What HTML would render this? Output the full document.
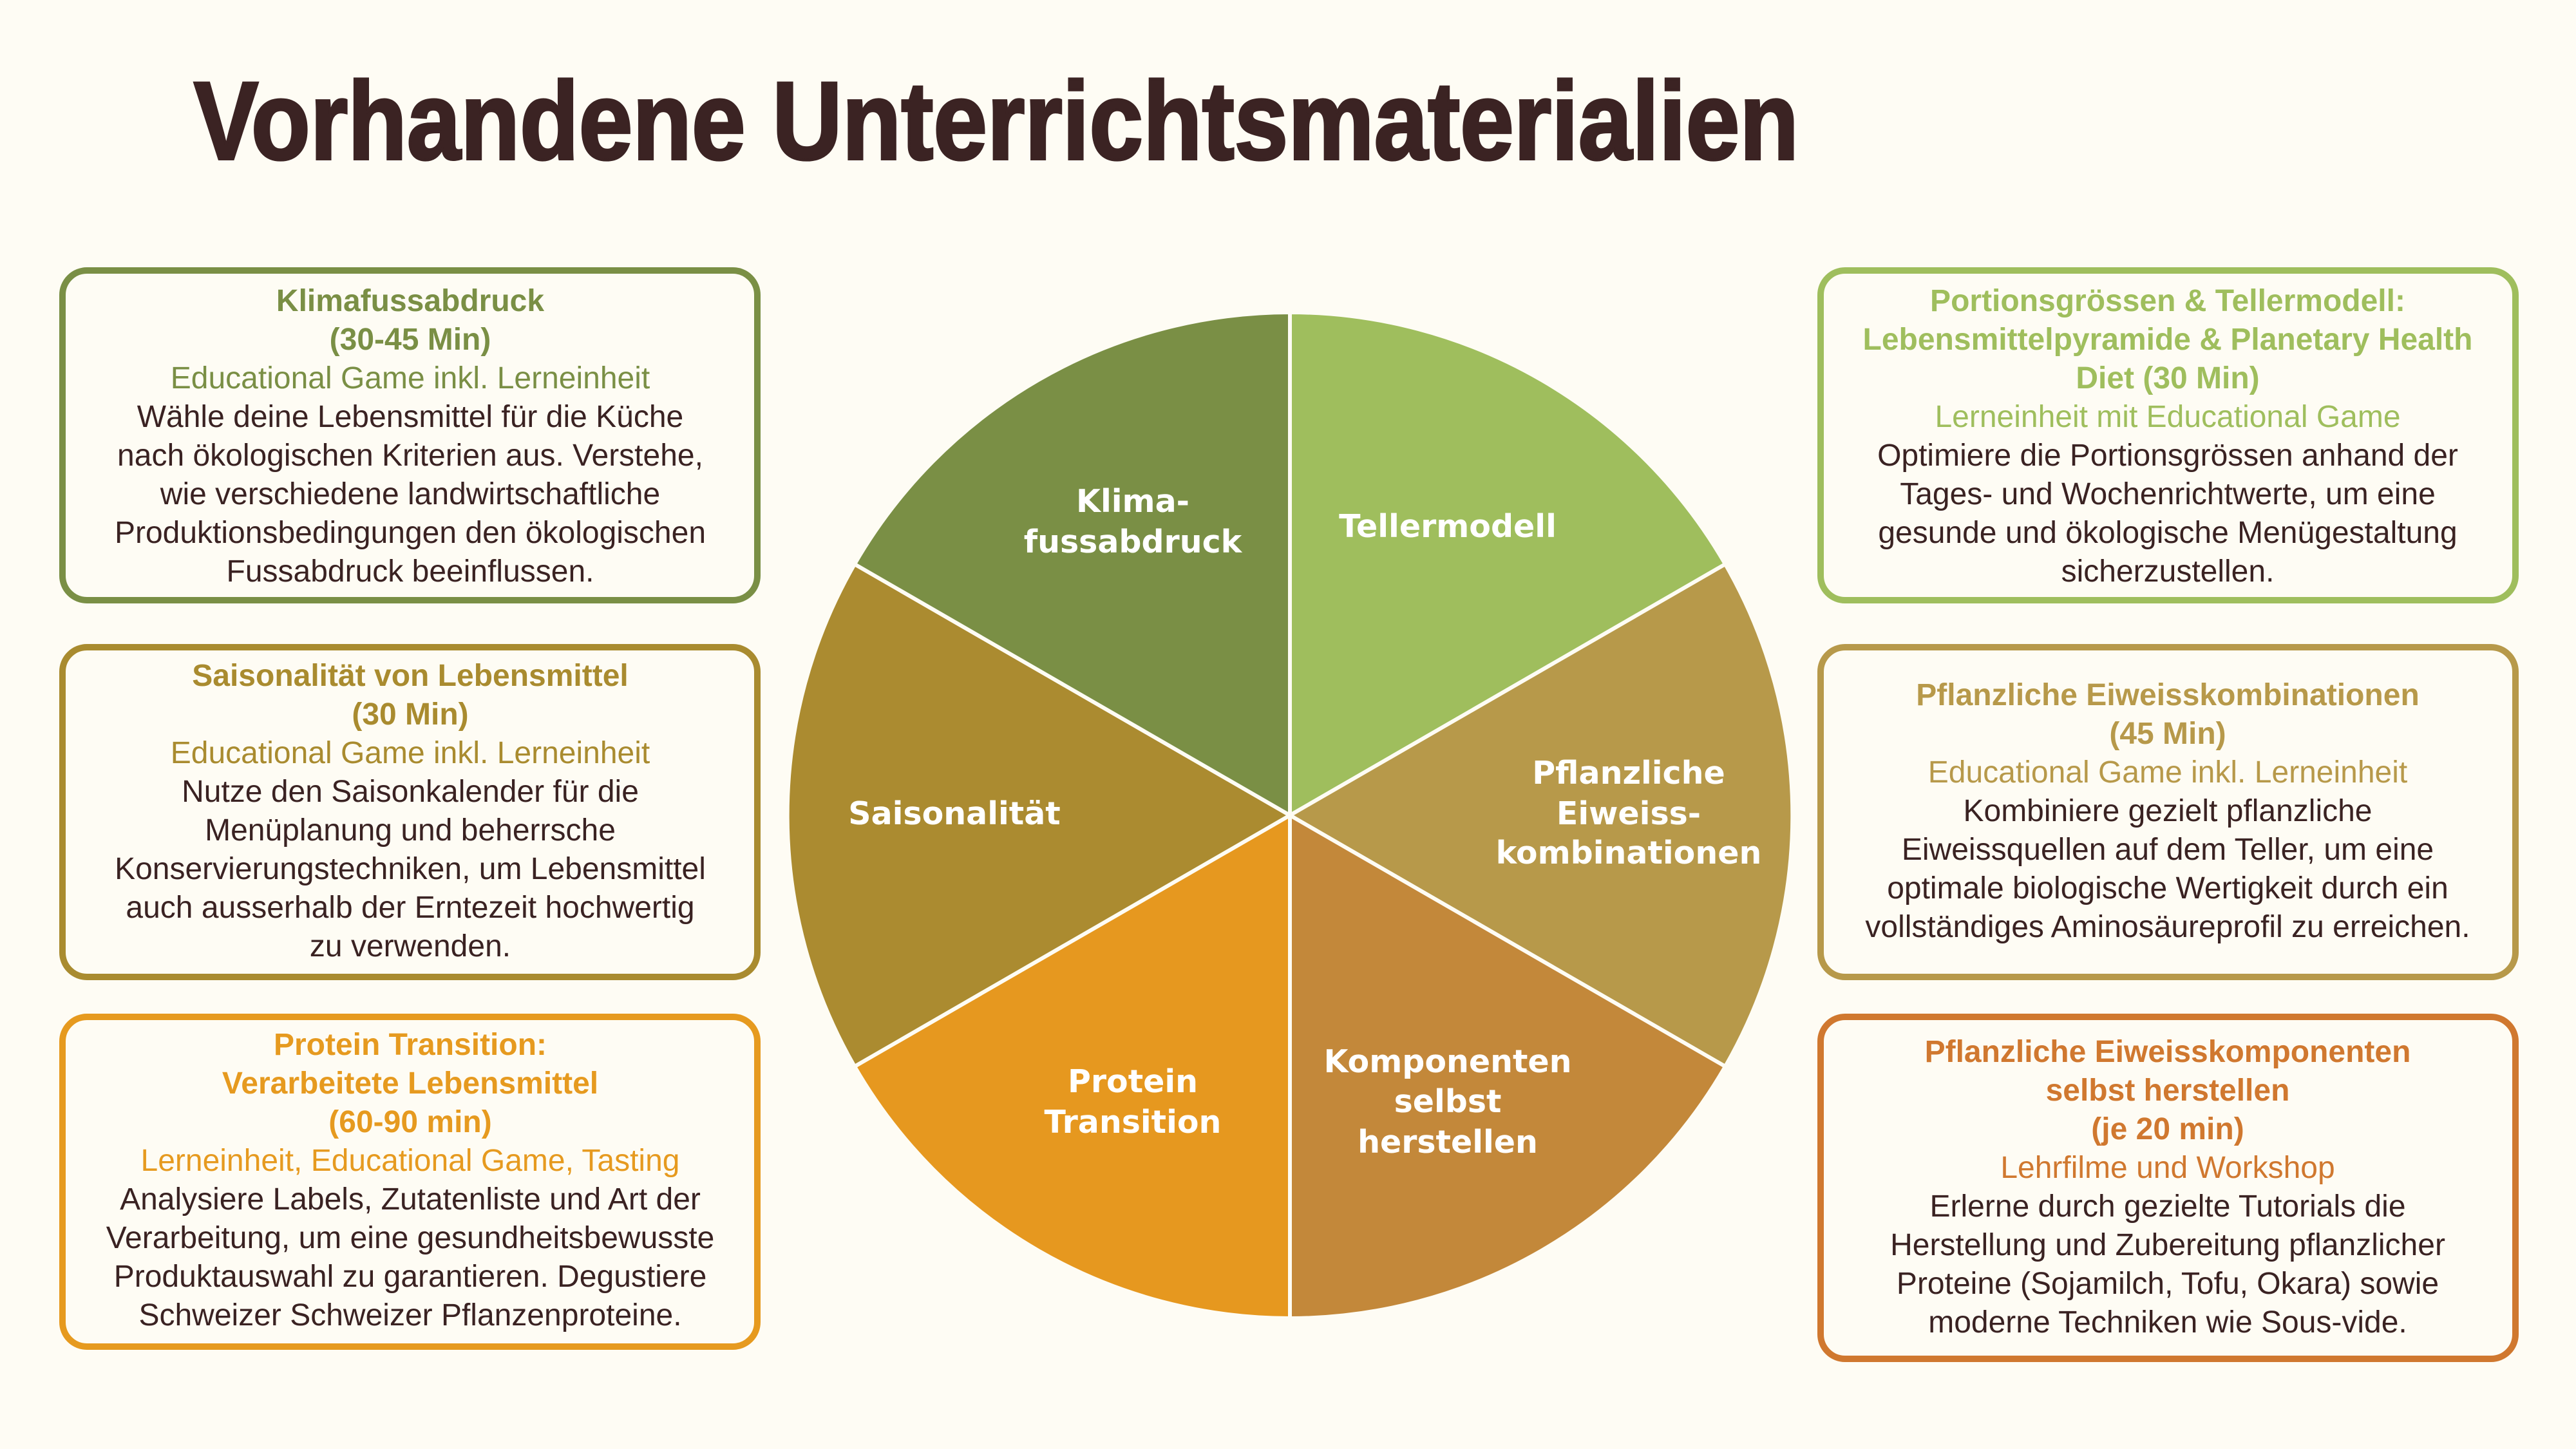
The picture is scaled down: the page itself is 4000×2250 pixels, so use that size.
<!DOCTYPE html>
<html><head><meta charset="utf-8"><style>
html,body{margin:0;padding:0;background:#fefcf4;}
svg{display:block;}
.b{font-family:"Liberation Sans",sans-serif;font-size:48px;fill:#3a2222;text-anchor:middle;}
.t{font-weight:bold;}
.p{font-family:"DejaVu Sans","Liberation Sans",sans-serif;font-weight:bold;font-size:49px;fill:#fff;text-anchor:middle;}
</style></head><body>
<svg width="4000" height="2250" viewBox="0 0 4000 2250" xmlns="http://www.w3.org/2000/svg">
<rect width="4000" height="2250" fill="#fefcf4"/>
<text x="301" y="247" font-family="Liberation Sans,sans-serif" font-weight="bold" font-size="172" fill="#3b2323" stroke="#3b2323" stroke-width="4" textLength="2492" lengthAdjust="spacingAndGlyphs">Vorhandene Unterrichtsmaterialien</text>

<g stroke="#fefcf4" stroke-width="6">
<path d="M2003 1266 L2003 485 A781 781 0 0 1 2679 876 Z" fill="#9fbe5d"/>
<path d="M2003 1266 L2679 876 A781 781 0 0 1 2679 1656 Z" fill="#b7994a"/>
<path d="M2003 1266 L2679 1656 A781 781 0 0 1 2003 2047 Z" fill="#c3883a"/>
<path d="M2003 1266 L2003 2047 A781 781 0 0 1 1327 1656 Z" fill="#e6981f"/>
<path d="M2003 1266 L1327 1656 A781 781 0 0 1 1327 876 Z" fill="#ab8b30"/>
<path d="M2003 1266 L1327 876 A781 781 0 0 1 2003 485 Z" fill="#7a8f45"/>
</g>
<text class="p" x="1759" y="795">Klima-</text>
<text class="p" x="1759" y="858">fussabdruck</text>
<text class="p" x="2248" y="834">Tellermodell</text>
<text class="p" x="2529" y="1217">Pflanzliche</text>
<text class="p" x="2529" y="1280">Eiweiss-</text>
<text class="p" x="2529" y="1341">kombinationen</text>
<text class="p" x="1482" y="1280">Saisonalität</text>
<text class="p" x="1759" y="1696">Protein</text>
<text class="p" x="1759" y="1759">Transition</text>
<text class="p" x="2248" y="1665">Komponenten</text>
<text class="p" x="2248" y="1727">selbst</text>
<text class="p" x="2248" y="1790">herstellen</text>

<g fill="#fefcf4" stroke-width="10">
<rect x="97" y="420" width="1079" height="512" rx="38" stroke="#7a8f45"/>
<rect x="97" y="1005" width="1079" height="512" rx="38" stroke="#a98b2f"/>
<rect x="97" y="1579" width="1079" height="512" rx="38" stroke="#e69a1f"/>
<rect x="2827" y="420" width="1079" height="512" rx="38" stroke="#9fbe5d"/>
<rect x="2827" y="1005" width="1079" height="512" rx="38" stroke="#b7994a"/>
<rect x="2827" y="1579" width="1079" height="531" rx="38" stroke="#d0782f"/>
</g>

<g class="b">
<text x="637" y="483" class="b t" style="fill:#7a8f45">Klimafussabdruck</text>
<text x="637" y="543" class="b t" style="fill:#7a8f45">(30-45 Min)</text>
<text x="637" y="603" class="b" style="fill:#7a8f45">Educational Game inkl. Lerneinheit</text>
<text x="637" y="663" class="b">Wähle deine Lebensmittel für die Küche</text>
<text x="637" y="723" class="b">nach ökologischen Kriterien aus. Verstehe,</text>
<text x="637" y="783" class="b">wie verschiedene landwirtschaftliche</text>
<text x="637" y="843" class="b">Produktionsbedingungen den ökologischen</text>
<text x="637" y="903" class="b">Fussabdruck beeinflussen.</text>

<text x="637" y="1065" class="b t" style="fill:#a98b2f">Saisonalität von Lebensmittel</text>
<text x="637" y="1125" class="b t" style="fill:#a98b2f">(30 Min)</text>
<text x="637" y="1185" class="b" style="fill:#a98b2f">Educational Game inkl. Lerneinheit</text>
<text x="637" y="1245" class="b">Nutze den Saisonkalender für die</text>
<text x="637" y="1305" class="b">Menüplanung und beherrsche</text>
<text x="637" y="1365" class="b">Konservierungstechniken, um Lebensmittel</text>
<text x="637" y="1425" class="b">auch ausserhalb der Erntezeit hochwertig</text>
<text x="637" y="1485" class="b">zu verwenden.</text>

<text x="637" y="1638" class="b t" style="fill:#e69a1f">Protein Transition:</text>
<text x="637" y="1698" class="b t" style="fill:#e69a1f">Verarbeitete Lebensmittel</text>
<text x="637" y="1758" class="b t" style="fill:#e69a1f">(60-90 min)</text>
<text x="637" y="1818" class="b" style="fill:#e69a1f">Lerneinheit, Educational Game, Tasting</text>
<text x="637" y="1878" class="b">Analysiere Labels, Zutatenliste und Art der</text>
<text x="637" y="1938" class="b">Verarbeitung, um eine gesundheitsbewusste</text>
<text x="637" y="1998" class="b">Produktauswahl zu garantieren. Degustiere</text>
<text x="637" y="2058" class="b">Schweizer Schweizer Pflanzenproteine.</text>

<text x="3366" y="483" class="b t" style="fill:#9fbe5d">Portionsgrössen &amp; Tellermodell:</text>
<text x="3366" y="543" class="b t" style="fill:#9fbe5d">Lebensmittelpyramide &amp; Planetary Health</text>
<text x="3366" y="603" class="b t" style="fill:#9fbe5d">Diet (30 Min)</text>
<text x="3366" y="663" class="b" style="fill:#9fbe5d">Lerneinheit mit Educational Game</text>
<text x="3366" y="723" class="b">Optimiere die Portionsgrössen anhand der</text>
<text x="3366" y="783" class="b">Tages- und Wochenrichtwerte, um eine</text>
<text x="3366" y="843" class="b">gesunde und ökologische Menügestaltung</text>
<text x="3366" y="903" class="b">sicherzustellen.</text>

<text x="3366" y="1095" class="b t" style="fill:#b7994a">Pflanzliche  Eiweisskombinationen</text>
<text x="3366" y="1155" class="b t" style="fill:#b7994a">(45 Min)</text>
<text x="3366" y="1215" class="b" style="fill:#b7994a">Educational Game inkl. Lerneinheit</text>
<text x="3366" y="1275" class="b">Kombiniere gezielt pflanzliche</text>
<text x="3366" y="1335" class="b">Eiweissquellen auf dem Teller, um eine</text>
<text x="3366" y="1395" class="b">optimale biologische Wertigkeit durch ein</text>
<text x="3366" y="1455" class="b">vollständiges Aminosäureprofil zu erreichen.</text>

<text x="3366" y="1649" class="b t" style="fill:#d0782f">Pflanzliche Eiweisskomponenten</text>
<text x="3366" y="1709" class="b t" style="fill:#d0782f">selbst herstellen</text>
<text x="3366" y="1769" class="b t" style="fill:#d0782f">(je 20 min)</text>
<text x="3366" y="1829" class="b" style="fill:#d0782f">Lehrfilme und Workshop</text>
<text x="3366" y="1889" class="b">Erlerne durch gezielte Tutorials die</text>
<text x="3366" y="1949" class="b">Herstellung und Zubereitung pflanzlicher</text>
<text x="3366" y="2009" class="b">Proteine (Sojamilch, Tofu, Okara) sowie</text>
<text x="3366" y="2069" class="b">moderne Techniken wie Sous-vide.</text>
</g>
</svg>
</body></html>
